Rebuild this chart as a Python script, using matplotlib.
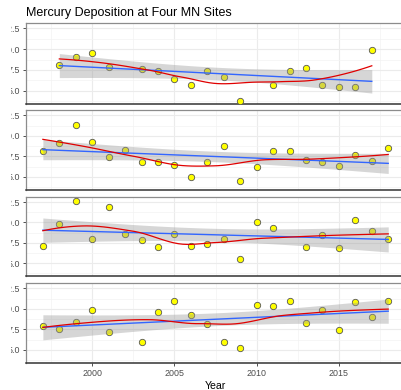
import numpy as np
import matplotlib
matplotlib.use("Agg")
import matplotlib.pyplot as plt
from matplotlib.transforms import Bbox, TransformedBbox

plt.rcParams['font.family'] = ['Liberation Sans', 'DejaVu Sans']

# mercury deposition, one list pair per site
years_1 = [1998, 1999, 2000, 2001, 2003, 2004, 2005, 2006, 2007, 2008, 2009,
           2011, 2012, 2013, 2014, 2015, 2016, 2017]
hg_1 = [8.1, 9.1, 9.5, 7.9, 7.6, 7.4, 6.4, 5.7, 7.4, 6.7, 3.8,
        5.7, 7.4, 7.7, 5.7, 5.5, 5.5, 9.9]

years_2 = list(range(1997, 2019))
hg_2 = [8.2, 9.1, 11.3, 9.2, 7.4, 8.3, 6.8, 6.8, 6.5, 5.0, 6.8,
        8.8, 4.5, 6.2, 8.2, 8.1, 7.1, 6.8, 6.3, 7.7, 6.9, 8.5]

years_3 = [y for y in range(1997, 2019) if y != 2012]
hg_3 = [7.1, 9.8, 12.7, 8.0, 11.9, 8.6, 7.9, 7.0, 8.6, 7.1, 7.3,
        8.0, 5.5, 10.0, 9.3, 7.0, 8.4, 6.8, 10.3, 9.0, 8.0]

years_4 = [y for y in range(1997, 2019) if y != 2002]
hg_4 = [7.9, 7.5, 8.4, 9.8, 7.2, 5.9, 9.6, 10.9, 9.3, 8.1, 6.0,
        5.2, 10.5, 10.3, 10.9, 8.3, 9.9, 7.4, 10.8, 9.0, 10.9]

sites = [(years_1, hg_1), (years_2, hg_2), (years_3, hg_3), (years_4, hg_4)]

x_ticks = [2000, 2005, 2010, 2015]
y_ticks = [5.0, 7.5, 10.0, 12.5]
y_tick_labels = ["5.0", "7.5", "10.0", "12.5"]

# t quantiles (0.975) for the 95% band
t975 = {14: 2.145, 15: 2.131, 16: 2.120, 17: 2.110, 18: 2.101,
        19: 2.093, 20: 2.086, 21: 2.080}


def local_fit(x, y, x0, q):
    # local quadratic with tricube weights, returns value and slope at x0
    d = np.abs(x - x0)
    h = np.sort(d)[q - 1]
    w = np.clip(1 - (d / h) ** 3, 0, None) ** 3
    A = np.vstack([np.ones(len(x)), x - x0, (x - x0) ** 2]).T
    sw = np.sqrt(w)
    coef = np.linalg.lstsq(A * sw[:, None], y * sw, rcond=None)[0]
    return coef[0], coef[1]


def loess(x, y, xs, span=0.75, cell=0.2):
    # like R's loess: fit at kd-tree vertices, cubic hermite in between
    n = len(x)
    q = int(np.floor(n * span))
    fc = int(np.floor(n * span * cell))
    xsrt = np.sort(x)
    mu = 0.005 * (xsrt[-1] - xsrt[0])
    verts = [xsrt[0] - mu, xsrt[-1] + mu]

    def split(l, u):
        if u - l + 1 <= fc:
            return
        m = (l + u) // 2
        verts.append((xsrt[m] + xsrt[m + 1]) / 2)
        split(l, m)
        split(m + 1, u)

    split(0, n - 1)
    verts = np.array(sorted(verts))
    vals = np.array([local_fit(x, y, v, q) for v in verts])

    out = []
    for x0 in xs:
        k = min(np.searchsorted(verts, x0, side="right") - 1, len(verts) - 2)
        v0, v1 = verts[k], verts[k + 1]
        hh = v1 - v0
        t = (x0 - v0) / hh
        f0, d0 = vals[k]
        f1, d1 = vals[k + 1]
        out.append((2 * t**3 - 3 * t**2 + 1) * f0 + (t**3 - 2 * t**2 + t) * hh * d0
                   + (-2 * t**3 + 3 * t**2) * f1 + (t**3 - t**2) * hh * d1)
    return np.array(out)


W, H = 401, 390
fig = plt.figure(figsize=(W / 100, H / 100), dpi=100)

# panel top/bottom in pixels
panels_px = [(23, 104), (110, 190), (197, 276), (283, 363)]
left_px, right_px = 25.6, 405.5

for i, ((yrs, hg), (top, bot)) in enumerate(zip(sites, panels_px)):
    ax = fig.add_axes([left_px / W, 1 - bot / H, (right_px - left_px) / W, (bot - top) / H])
    x = np.array(yrs, dtype=float)
    y = np.array(hg, dtype=float)

    ax.scatter(x, y, s=21, c="#FFFF00", edgecolors="#555555", linewidths=0.6, zorder=3)

    xs = np.linspace(x.min(), x.max(), 80)
    n = len(x)
    b, a = np.polyfit(x, y, 1)
    pred = a + b * xs
    resid = y - (a + b * x)
    s = np.sqrt(np.sum(resid ** 2) / (n - 2))
    se = s * np.sqrt(1 / n + (xs - x.mean()) ** 2 / np.sum((x - x.mean()) ** 2))
    tq = t975[n - 2]
    ax.fill_between(xs, pred - tq * se, pred + tq * se, color="#999999", alpha=0.4,
                    linewidth=0, zorder=4)
    ax.plot(xs, pred, color="#3366FF", lw=1.0, zorder=5)
    ax.plot(xs, loess(x, y, xs), color="#E00000", lw=0.9, zorder=6)

    ax.set_xlim(1995.95, 2019.05)
    ax.set_ylim(3.4, 13.14)
    ax.set_xticks(x_ticks)
    ax.set_xticks(np.arange(1997.5, 2019, 5), minor=True)
    ax.set_yticks(y_ticks)
    ax.set_yticklabels(y_tick_labels)
    ax.set_yticks([3.75, 6.25, 8.75, 11.25], minor=True)
    ax.grid(True, which="major", color="#EBEBEB", lw=0.8)
    ax.grid(True, which="minor", color="#F3F3F3", lw=0.5)
    ax.set_axisbelow(True)

    for side in ["top", "left", "right"]:
        ax.spines[side].set_color("#8C8C8C")
        ax.spines[side].set_linewidth(0.9)
    ax.spines["bottom"].set_color("#333333")
    ax.spines["bottom"].set_linewidth(1.1)

    ax.tick_params(axis="y", which="major", length=2.5, width=0.6, color="#333333",
                   labelsize=6.4, labelcolor="#4D4D4D", pad=1.5)
    ax.tick_params(which="minor", length=0)
    if i == 3:
        ax.tick_params(axis="x", which="major", length=2.5, width=0.6, color="#333333",
                       labelsize=6.4, labelcolor="#4D4D4D", pad=2)
        ax.set_xlabel("Year", fontsize=7.6, labelpad=2)
    else:
        ax.tick_params(axis="x", which="major", length=0, labelbottom=False)

fig.text(26 / W, 1 - 13 / H, "Mercury Deposition at Four MN Sites", fontsize=9,
         va="center", ha="left")

# the left side of the y labels is cut off in the source picture
fig.canvas.draw()
clip = TransformedBbox(Bbox.from_extents(10.5 / W, 0, 1, 1), fig.transFigure)
for ax in fig.axes:
    for lab in ax.get_yticklabels():
        lab.set_clip_on(True)
        lab.set_clip_box(clip)

fig.savefig("out.png", dpi=100)
